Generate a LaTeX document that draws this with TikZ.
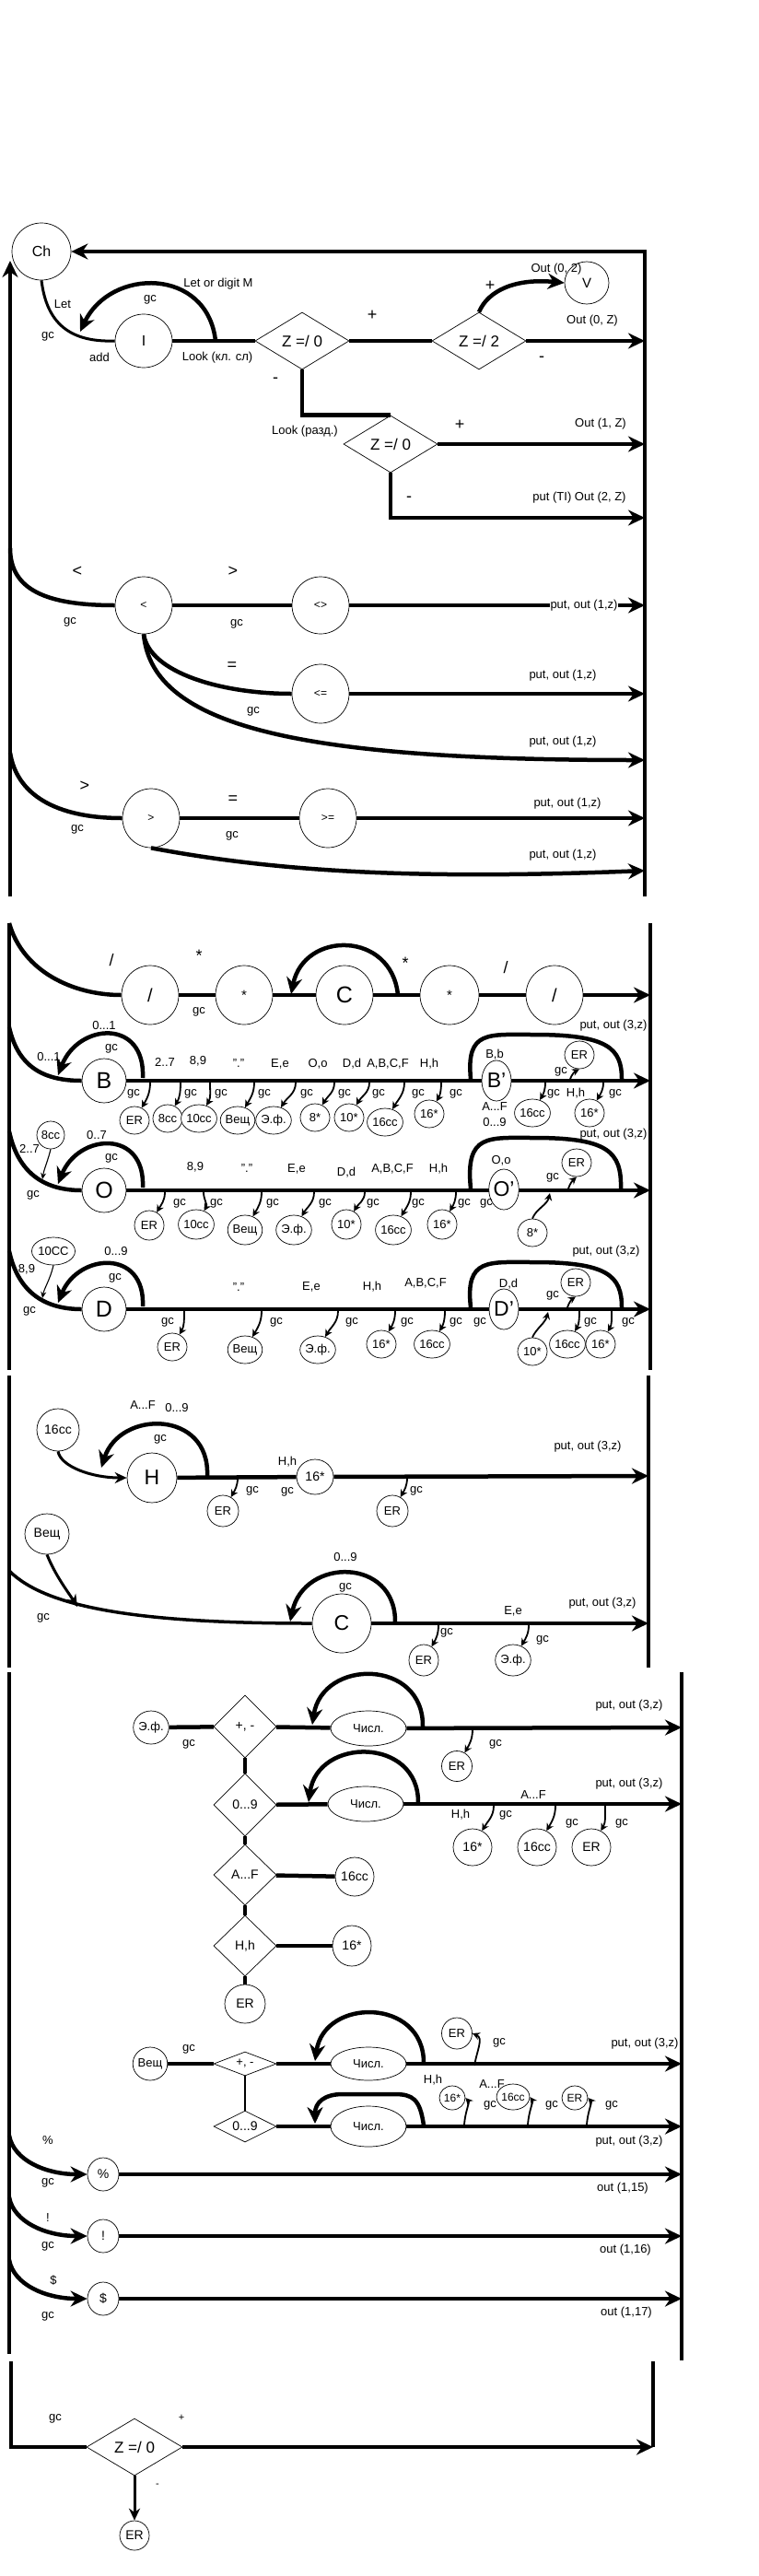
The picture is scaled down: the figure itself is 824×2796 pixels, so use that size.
\documentclass[tikz,border=0pt]{standalone}
\usepackage{fontspec}
\setmainfont{Liberation Sans}
\usetikzlibrary{arrows.meta,shapes.geometric}
\tikzset{
  lab/.style={font=\fontsize{13}{15}\selectfont, inner sep=0.5pt},
  sgn/.style={font=\fontsize{18}{20}\selectfont, inner sep=0pt},
  wl/.style={lab, fill=white, inner sep=1pt},
  st/.style={draw, ellipse, line width=0.7pt, inner sep=0pt, fill=white},
  bigst/.style={st, minimum width=62pt, minimum height=62pt, font=\fontsize{16}{18}\selectfont},
  midst/.style={st, minimum width=48pt, minimum height=48pt, font=\fontsize{25}{27}\selectfont},
  sm/.style={st, minimum width=32pt, minimum height=30pt, font=\fontsize{13}{15}\selectfont},
  primst/.style={st, minimum width=32pt, minimum height=44pt, font=\fontsize{23}{25}\selectfont},
  dia/.style={draw, diamond, line width=0.7pt, inner sep=0pt, fill=white, font=\fontsize{17}{19}\selectfont},
  main/.style={line width=4.5pt},
  arr/.style={line width=4.5pt, -{Stealth[length=18pt,width=17pt]}},
  marr/.style={line width=3pt, -{Stealth[length=13pt,width=12pt]}},
  sarr/.style={line width=1.8pt, -{Stealth[length=8pt,width=8pt]}},
  tarr/.style={line width=1.1pt, -{Stealth[length=7pt,width=6pt]}},
}
\begin{document}
\begin{tikzpicture}[x=1pt,y=-1pt]
\useasboundingbox (0,0) rectangle (824,2796);

% ================= Section 1 =================
\coordinate (r1t) at (700,273);
\coordinate (r1b) at (700,973);
\coordinate (l1t) at (11,283);
\coordinate (l1b) at (11,973);
\node[bigst, minimum width=64pt] (Ch) at (45,273) {Ch};
\node[bigst, minimum height=58pt] (I) at (156,370) {I};
\node[dia, minimum width=102pt, minimum height=62pt] (d1) at (328,370) {Z =/ 0};
\node[dia, minimum width=102pt, minimum height=62pt] (d2) at (520,370) {Z =/ 2};
\node[dia, minimum width=102pt, minimum height=62pt] (d3) at (424,482) {Z =/ 0};
\node[st, minimum width=48pt, minimum height=46pt, font=\fontsize{15}{17}\selectfont] (V) at (637,307) {V};
\draw[arr] (r1b) -- (r1t) -- (Ch.east);
\draw[arr] (l1b) -- (l1t);
\draw[line width=3pt] (Ch.south) .. controls (50,345) and (70,372) .. (I.west);
\draw[main] (I.east) -- (d1.west);
\coordinate (li1) at (234,370);
\coordinate (li1e) at (87,360);
\draw[arr] (li1) .. controls (225,290) and (120,290) .. (li1e);
\draw[main] (d1.east) -- (d2.west);
\coordinate (e1) at (700,370);
\draw[arr] (d2.east) -- (e1);
\draw[arr] (d2.north) .. controls (530,315) and (560,302) .. (V.west);
\draw[main] (d1.south) |- (d3.north);
\coordinate (e2) at (700,482);
\draw[arr] (d3.east) -- (e2);
\coordinate (e3) at (700,562);
\draw[arr] (d3.south) |- (e3);

\node[bigst, font=\fontsize{12}{14}\selectfont] (lt) at (156,657) {<};
\node[bigst, font=\fontsize{12}{14}\selectfont] (ne) at (348,657) {<>};
\node[bigst, minimum height=64pt, font=\fontsize{12}{14}\selectfont] (le) at (348,753) {<=};
\node[bigst, minimum height=64pt, font=\fontsize{12}{14}\selectfont] (gt) at (164,888) {>};
\node[bigst, minimum height=64pt, font=\fontsize{12}{14}\selectfont] (ge) at (356,888) {>=};
\coordinate (c1) at (11,595);
\draw[main] (c1) .. controls (11,640) and (50,657) .. (lt.west);
\draw[main] (lt) -- (ne);
\coordinate (e4) at (700,657);
\draw[arr] (ne) -- (e4);
\draw[main] (lt.south) .. controls (162,730) and (240,753) .. (le.west);
\coordinate (e5) at (700,753);
\draw[arr] (le) -- (e5);
\coordinate (e6) at (700,825);
\draw[arr] (lt.south) .. controls (165,790) and (330,825) .. (e6);
\coordinate (c2) at (11,817);
\draw[main] (c2) .. controls (18,862) and (60,888) .. (gt.west);
\draw[main] (gt) -- (ge);
\coordinate (e7) at (700,888);
\draw[arr] (ge) -- (e7);
\coordinate (e8) at (700,945);
\draw[arr] (gt.south) .. controls (300,946) and (450,955) .. (e8);

\node[lab] (t1) at (237,308) {Let or digit M};
\node[lab] (t2) at (163,325) {gc};
\node[lab] (t3) at (68,330) {Let};
\node[lab] (t4) at (52,365) {gc};
\node[lab] (t5) at (108,388) {add};
\node[lab] (t6) at (236,388) {Look (кл. сл)};
\node[sgn] (t7) at (404,342) {+};
\node[lab] (t8) at (643,348) {Out (0, Z)};
\node[sgn] (t9) at (588,390) {-};
\node[sgn] (t10) at (532,310) {+};
\node[lab] (t11) at (604,292) {Out (0, 2)};
\node[sgn] (t12) at (299,413) {-};
\node[lab] (t13) at (331,468) {Look (разд.)};
\node[sgn] (t14) at (499,461) {+};
\node[lab] (t15) at (652,460) {Out (1, Z)};
\node[sgn] (t16) at (444,542) {-};
\node[lab] (t17) at (629,540) {put (TI) Out (2, Z)};
\node[sgn] (t18) at (84,620) {<};
\node[lab] (t19) at (76,675) {gc};
\node[sgn] (t20) at (253,620) {>};
\node[lab] (t21) at (257,677) {gc};
\node[wl] (t22) at (634,657) {put, out (1,z)};
\node[sgn] (t23) at (252,723) {=};
\node[lab] (t24) at (275,772) {gc};
\node[lab] (t25) at (611,733) {put, out (1,z)};
\node[lab] (t26) at (611,805) {put, out (1,z)};
\node[sgn] (t27) at (92,853) {>};
\node[lab] (t28) at (84,900) {gc};
\node[sgn] (t29) at (253,868) {=};
\node[lab] (t30) at (252,907) {gc};
\node[lab] (t31) at (616,872) {put, out (1,z)};
\node[lab] (t32) at (611,928) {put, out (1,z)};

% ================= Section 2 =================
\coordinate (l2t) at (10,1002); \coordinate (l2b) at (10,1487);
\coordinate (r2t) at (706,1002); \coordinate (r2b) at (706,1487);
\draw[main] (l2t) -- (l2b);
\draw[main] (r2t) -- (r2b);
\node[bigst, minimum height=64pt, font=\fontsize{20}{22}\selectfont] (s1) at (163,1080) {/};
\node[bigst, minimum height=64pt, font=\fontsize{15}{17}\selectfont] (a1) at (265,1080) {*};
\node[bigst, minimum height=64pt, font=\fontsize{25}{27}\selectfont] (cc) at (374,1080) {C};
\node[bigst, minimum height=64pt, minimum width=64pt, font=\fontsize{15}{17}\selectfont] (a2) at (488,1080) {*};
\node[bigst, minimum height=64pt, font=\fontsize{20}{22}\selectfont] (s2) at (602,1080) {/};
\draw[main] (l2t) .. controls (25,1055) and (80,1080) .. (s1.west);
\draw[main] (s1) -- (a1);
\draw[main] (a1) -- (cc);
\draw[main] (cc) -- (a2);
\draw[main] (a2) -- (s2);
\coordinate (e9) at (706,1080);
\draw[arr] (s2) -- (e9);
\coordinate (lp1) at (432,1080); \coordinate (lp1e) at (316,1079);
\draw[arr] (lp1) .. controls (425,1010) and (330,1010) .. (lp1e);
\node[font=\fontsize{18}{20}\selectfont] (t33) at (121,1042) {/};
\node[sgn] (t34) at (216,1037) {*};
\node[lab] (t35) at (216,1098) {gc};
\node[sgn] (t36) at (440,1045) {*};
\node[font=\fontsize{18}{20}\selectfont] (t37) at (549,1050) {/};

% ---- B row
\node[midst] (B) at (113,1173) {B};
\coordinate (bl) at (10,1115);
\draw[main] (bl) .. controls (20,1160) and (50,1173) .. (B.west);
\coordinate (e10) at (706,1173);
\draw[arr] (B.east) -- (e10);
\coordinate (lb1) at (155,1170); \coordinate (lb1e) at (63,1167);
\draw[arr] (lb1) .. controls (158,1105) and (85,1110) .. (lb1e);
\coordinate (bb1) at (511,1171); \coordinate (bb2) at (675,1171);
\draw[main] (bb1) .. controls (506,1118) and (530,1123) .. (580,1123) .. controls (660,1123) and (675,1138) .. (bb2);
\node[primst] (Bp) at (539,1173) {B'};
\foreach \nm/\t/\x/\y/\s in {bER/ER/146/1216/163, b8cc/8cc/182/1214/196, b10cc/10cc/216/1214/228, bVe/Вещ/258/1216/276, bEf/Э.ф./297/1216/321, b8s/8*/342/1213/363, b10s/10*/379/1213/401, b16cc/16cc/418/1218/439, b16s/16*/466/1209/479}{
  \node[sm] (\nm) at (\x,\y) {\t};
  \draw[sarr] (\s,1175) to[out=-90,in=60] (\nm.60);
}
\foreach \x [count=\k] in {145,207,240,287,333,374,411,454,495}{
  \node[lab] (bgc\k) at (\x,1187) {gc};
}
\node[sm] (bpER) at (629,1145) {ER};
\coordinate (bpg) at (619,1171);
\draw[sarr] (bpg) .. controls (621,1166) and (624,1163) .. (bpER.south);
\node[sm] (bp16cc) at (578,1208) {16cc};
\node[sm] (bp16s) at (640,1208) {16*};
\coordinate (bps1) at (592,1175); \coordinate (bps2) at (655,1175);
\draw[sarr] (bps1) to[out=-90,in=60] (bp16cc.60);
\draw[sarr] (bps2) to[out=-90,in=60] (bp16s.60);
\node[lab] (t40) at (113,1113) {0...1};
\node[lab] (t41) at (121,1138) {gc};
\node[lab] (t42) at (53,1147) {0...1};
\node[lab] (t43) at (179,1153) {2..7};
\node[lab] (t44) at (215,1152) {8,9};
\node[lab] (t45) at (259,1154) {"."};
\node[lab] (t46) at (304,1155) {E,e};
\node[lab] (t47) at (345,1155) {O,o};
\node[lab] (t48) at (382,1155) {D,d};
\node[lab] (t49) at (421,1155) {A,B,C,F};
\node[lab] (t50) at (466,1155) {H,h};
\node[lab] (t51) at (537,1145) {B,b};
\node[lab] (t52) at (537,1201) {A...F};
\node[lab] (t53) at (537,1218) {0...9};
\node[lab] (t54) at (609,1163) {gc};
\node[lab] (t55) at (666,1113) {put, out (3,z)};
\node[lab] (t56) at (601,1187) {gc};
\node[lab] (t57) at (625,1187) {H,h};
\node[lab] (t58) at (668,1187) {gc};

% ---- O row
\node[midst] (O) at (113,1292) {O};
\node[sm, minimum width=30pt] (o8cc) at (55,1232) {8cc};
\coordinate (ol) at (10,1228);
\draw[main] (ol) .. controls (20,1275) and (50,1292) .. (O.west);
\coordinate (o8t) at (46,1280);
\draw[tarr] (o8cc.south) .. controls (52,1260) and (48,1268) .. (o8t);
\coordinate (e11) at (706,1292);
\draw[arr] (O.east) -- (e11);
\coordinate (lo1) at (155,1289); \coordinate (lo1e) at (63,1285);
\draw[arr] (lo1) .. controls (158,1225) and (85,1230) .. (lo1e);
\coordinate (ob1) at (511,1290); \coordinate (ob2) at (674,1290);
\draw[main] (ob1) .. controls (505,1230) and (530,1235) .. (580,1235) .. controls (660,1235) and (675,1250) .. (ob2);
\node[primst] (Op) at (547,1291) {O'};
\foreach \nm/\t/\x/\y/\s in {oER/ER/162/1330/179, o10cc/10cc/213/1329/221, oVe/Вещ/266/1335/284, oEf/Э.ф./319/1335/341, o10s/10*/376/1329/396, o16cc/16cc/427/1335/446, o16s/16*/480/1329/495}{
  \node[sm, minimum height=32pt] (\nm) at (\x,\y) {\t};
  \draw[sarr] (\s,1294) to[out=-90,in=60] (\nm.60);
}
\foreach \x [count=\k] in {195,235,296,353,405,454,504,528}{
  \node[lab] (ogc\k) at (\x,1306) {gc};
}
\node[sm] (opER) at (626,1262) {ER};
\coordinate (opg) at (617,1290);
\draw[sarr] (opg) .. controls (619,1284) and (622,1281) .. (opER.south);
\node[sm] (op8s) at (578,1338) {8*};
\coordinate (op8t) at (597,1295);
\draw[sarr] (op8s.north) .. controls (582,1312) and (594,1308) .. (op8t);
\node[lab] (t60) at (105,1232) {0..7};
\node[lab] (t61) at (32,1247) {2..7};
\node[lab] (t62) at (121,1257) {gc};
\node[lab] (t63) at (36,1297) {gc};
\node[lab] (t64) at (212,1267) {8,9};
\node[lab] (t65) at (268,1268) {"."};
\node[lab] (t66) at (322,1269) {E,e};
\node[lab] (t67) at (376,1273) {D,d};
\node[lab] (t68) at (426,1269) {A,B,C,F};
\node[lab] (t69) at (476,1269) {H,h};
\node[lab] (t70) at (544,1260) {O,o};
\node[lab] (t71) at (600,1278) {gc};
\node[lab] (t72) at (666,1231) {put, out (3,z)};

% ---- D row
\node[midst] (D) at (113,1421) {D};
\node[sm, minimum width=35pt] (d10cc) at (58,1358) {10CC};
\coordinate (dl) at (10,1358);
\draw[main] (dl) .. controls (20,1404) and (50,1421) .. (D.west);
\coordinate (d10t) at (46,1409);
\draw[tarr] (d10cc.south) .. controls (54,1390) and (48,1398) .. (d10t);
\coordinate (e12) at (706,1421);
\draw[arr] (D.east) -- (e12);
\coordinate (ld1) at (155,1418); \coordinate (ld1e) at (63,1414);
\draw[arr] (ld1) .. controls (158,1355) and (85,1360) .. (ld1e);
\coordinate (db1) at (511,1419); \coordinate (db2) at (675,1419);
\draw[main] (db1) .. controls (505,1365) and (530,1370) .. (580,1370) .. controls (660,1370) and (675,1385) .. (db2);
\node[primst] (Dp) at (547,1421) {D'};
\foreach \nm/\t/\x/\y/\s in {dER/ER/187/1462/200, dVe/Вещ/266/1465/284, dEf/Э.ф./345/1465/367, d16s/16*/414/1459/429, d16cc/16cc/469/1459/483, dp16cc/16cc/616/1459/629, dp16s/16*/652/1459/664}{
  \node[sm] (\nm) at (\x,\y) {\t};
  \draw[sarr] (\s,1423) to[out=-90,in=60] (\nm.60);
}
\foreach \x [count=\k] in {182,300,382,442,495,521,641,682}{
  \node[lab] (dgc\k) at (\x,1435) {gc};
}
\node[sm] (dpER) at (625,1392) {ER};
\coordinate (dpg) at (616,1419);
\draw[sarr] (dpg) .. controls (618,1413) and (621,1410) .. (dpER.south);
\node[sm] (dp10s) at (578,1467) {10*};
\coordinate (dp10t) at (595,1424);
\draw[sarr] (dp10s.north) .. controls (582,1442) and (592,1436) .. (dp10t);
\node[lab] (t80) at (126,1358) {0...9};
\node[lab] (t81) at (29,1378) {8,9};
\node[lab] (t82) at (125,1387) {gc};
\node[lab] (t83) at (32,1423) {gc};
\node[lab] (t84) at (259,1397) {"."};
\node[lab] (t85) at (338,1397) {E,e};
\node[lab] (t86) at (404,1397) {H,h};
\node[lab] (t87) at (462,1393) {A,B,C,F};
\node[lab] (t88) at (552,1394) {D,d};
\node[lab] (t89) at (600,1406) {gc};
\node[lab] (t90) at (658,1358) {put, out (3,z)};

% ================= Section 3 =================
\coordinate (l3t) at (10,1493); \coordinate (l3b) at (10,1810);
\coordinate (r3t) at (704,1493); \coordinate (r3b) at (704,1810);
\draw[main] (l3t) -- (l3b);
\draw[main] (r3t) -- (r3b);
\node[st, minimum width=46pt, minimum height=46pt, font=\fontsize{14}{16}\selectfont] (h16cc) at (63,1552) {16cc};
\node[st, minimum width=54pt, minimum height=54pt, font=\fontsize{23}{25}\selectfont] (H) at (165,1604) {H};
\draw[marr] (h16cc.south) .. controls (66,1592) and (100,1604) .. (H.west);
\coordinate (lh1) at (225,1602); \coordinate (lh1e) at (110,1593);
\draw[arr] (lh1) .. controls (228,1530) and (130,1530) .. (lh1e);
\node[st, minimum width=40pt, minimum height=38pt, font=\fontsize{14}{16}\selectfont] (h16s) at (342,1603) {16*};
\draw[main] (H) -- (h16s);
\coordinate (e20) at (704,1602);
\draw[arr] (h16s) -- (e20);
\node[sm, minimum width=34pt, minimum height=34pt] (hER1) at (242,1640) {ER};
\node[sm, minimum width=34pt, minimum height=34pt] (hER2) at (426,1640) {ER};
\coordinate (hs1) at (258,1604); \coordinate (hs2) at (442,1604);
\draw[sarr] (hs1) to[out=-90,in=60] (hER1.60);
\draw[sarr] (hs2) to[out=-90,in=60] (hER2.60);
\node[lab] (t100) at (155,1525) {A...F};
\node[lab] (t101) at (192,1528) {0...9};
\node[lab] (t102) at (174,1562) {gc};
\node[lab] (t103) at (312,1587) {H,h};
\node[lab] (t104) at (312,1619) {gc};
\node[lab] (t105) at (274,1618) {gc};
\node[lab] (t106) at (452,1618) {gc};
\node[lab] (t107) at (638,1570) {put, out (3,z)};

\node[st, minimum width=48pt, minimum height=44pt, font=\fontsize{14}{16}\selectfont] (cVe) at (51,1665) {Вещ};
\node[bigst, minimum width=64pt, minimum height=64pt, font=\fontsize{23}{25}\selectfont] (C2) at (371,1762) {C};
\coordinate (cl) at (10,1705);
\draw[line width=3.5pt] (cl) .. controls (50,1745) and (150,1762) .. (C2.west);
\coordinate (cvt) at (84,1744);
\draw[marr] (cVe.south) .. controls (60,1710) and (74,1728) .. (cvt);
\coordinate (lc2) at (429,1761); \coordinate (lc2e) at (315,1760);
\draw[arr] (lc2) .. controls (430,1690) and (330,1690) .. (lc2e);
\coordinate (e21) at (704,1762);
\draw[arr] (C2) -- (e21);
\node[sm, minimum height=34pt] (cER) at (460,1802) {ER};
\node[sm, minimum height=34pt] (cEf) at (557,1802) {Э.ф.};
\coordinate (cs1) at (476,1764); \coordinate (cs2) at (574,1764);
\draw[sarr] (cs1) to[out=-90,in=60] (cER.60);
\draw[sarr] (cs2) to[out=-90,in=60] (cEf.60);
\node[lab] (t110) at (47,1756) {gc};
\node[lab] (t111) at (375,1690) {0...9};
\node[lab] (t112) at (375,1723) {gc};
\node[lab] (t113) at (557,1749) {E,e};
\node[lab] (t114) at (654,1740) {put, out (3,z)};
\node[lab] (t115) at (485,1772) {gc};
\node[lab] (t116) at (589,1780) {gc};

% ================= Section 4 =================
\coordinate (l4t) at (10,1815); \coordinate (l4b) at (10,2555);
\coordinate (r4t) at (740,1815); \coordinate (r4b) at (740,2562);
\draw[main] (l4t) -- (l4b);
\draw[main] (r4t) -- (r4b);
\node[st, minimum width=34pt, minimum height=36pt, font=\fontsize{13}{15}\selectfont] (fEf) at (164,1875) {Э.ф.};
\node[dia, minimum width=68pt, minimum height=68pt, font=\fontsize{14}{16}\selectfont] (pm1) at (266,1874) {+, -};
\node[st, minimum width=82pt, minimum height=38pt, font=\fontsize{13}{15}\selectfont] (ch1) at (400,1876) {Числ.};
\draw[main] (fEf) -- (pm1);
\draw[main] (pm1) -- (ch1);
\coordinate (e30) at (740,1875);
\draw[arr] (ch1) -- (e30);
\coordinate (lq1) at (459,1874); \coordinate (lq1e) at (339,1872);
\draw[arr] (lq1) .. controls (460,1800) and (350,1800) .. (lq1e);
\node[sm, minimum width=33pt, minimum height=33pt] (fER1) at (496,1917) {ER};
\coordinate (fs1) at (513,1877);
\draw[sarr] (fs1) to[out=-90,in=60] (fER1.60);

\node[dia, minimum width=68pt, minimum height=68pt, font=\fontsize{14}{16}\selectfont] (d09) at (266,1959) {0...9};
\node[st, minimum width=82pt, minimum height=38pt, font=\fontsize{13}{15}\selectfont] (ch2) at (397,1958) {Числ.};
\draw[main] (pm1.south) -- (d09.north);
\draw[main] (d09) -- (ch2);
\coordinate (e31) at (740,1958);
\draw[arr] (ch2) -- (e31);
\coordinate (lq2) at (454,1957); \coordinate (lq2e) at (335,1956);
\draw[arr] (lq2) .. controls (455,1885) and (345,1885) .. (lq2e);
\node[st, minimum width=42pt, minimum height=40pt, font=\fontsize{14}{16}\selectfont] (f16s) at (513,2005) {16*};
\node[st, minimum width=42pt, minimum height=40pt, font=\fontsize{14}{16}\selectfont] (f16cc) at (583,2005) {16cc};
\node[st, minimum width=42pt, minimum height=40pt, font=\fontsize{14}{16}\selectfont] (fER2) at (642,2005) {ER};
\coordinate (fs2) at (536,1960); \coordinate (fs3) at (603,1960); \coordinate (fs4) at (657,1960);
\draw[sarr] (fs2) to[out=-90,in=60] (f16s.60);
\draw[sarr] (fs3) to[out=-90,in=60] (f16cc.60);
\draw[sarr] (fs4) to[out=-90,in=60] (fER2.60);

\node[dia, minimum width=68pt, minimum height=66pt, font=\fontsize{14}{16}\selectfont] (daf) at (266,2035) {A...F};
\node[st, minimum width=42pt, minimum height=42pt, font=\fontsize{14}{16}\selectfont] (f16cc2) at (385,2037) {16cc};
\draw[main] (d09.south) -- (daf.north);
\draw[main] (daf) -- (f16cc2);
\node[dia, minimum width=68pt, minimum height=66pt, font=\fontsize{14}{16}\selectfont] (dhh) at (266,2112) {H,h};
\node[st, minimum width=42pt, minimum height=44pt, font=\fontsize{14}{16}\selectfont] (f16s2) at (382,2112) {16*};
\draw[main] (daf.south) -- (dhh.north);
\draw[main] (dhh) -- (f16s2);
\node[st, minimum width=44pt, minimum height=42pt, font=\fontsize{14}{16}\selectfont] (fER3) at (266,2175) {ER};
\draw[main] (dhh.south) -- (fER3.north);

\node[st, minimum width=34pt, minimum height=36pt, font=\fontsize{13}{15}\selectfont] (gVe) at (163,2240) {Вещ};
\node[dia, minimum width=68pt, minimum height=26pt, aspect=2.6, font=\fontsize{13}{15}\selectfont] (pm2) at (266,2240) {+, -};
\node[st, minimum width=82pt, minimum height=36pt, font=\fontsize{13}{15}\selectfont] (ch3) at (400,2240) {Числ.};
\draw[main] (gVe) -- (pm2);
\draw[main] (pm2) -- (ch3);
\coordinate (e32) at (740,2240);
\draw[arr] (ch3) -- (e32);
\coordinate (lq3) at (460,2239); \coordinate (lq3e) at (342,2237);
\draw[arr] (lq3) .. controls (460,2168) and (352,2168) .. (lq3e);
\node[sm, minimum width=33pt, minimum height=34pt] (gER1) at (496,2207) {ER};
\coordinate (gs1) at (515,2242);
\draw[sarr] (gs1) .. controls (518,2225) and (525,2212) .. (gER1.east);

\node[dia, minimum width=68pt, minimum height=34pt, aspect=2, font=\fontsize{14}{16}\selectfont] (d092) at (266,2308) {0...9};
\node[st, minimum width=82pt, minimum height=44pt, font=\fontsize{13}{15}\selectfont] (ch4) at (400,2308) {Числ.};
\draw[line width=2.5pt] (pm2.south) -- (d092.north);
\draw[main] (d092) -- (ch4);
\coordinate (e33) at (740,2308);
\draw[arr] (ch4) -- (e33);
\coordinate (lq4) at (460,2307); \coordinate (lq4e) at (342,2305);
\draw[arr] (lq4) .. controls (456,2278) and (448,2273) .. (428,2273) -- (372,2273) .. controls (352,2273) and (342,2282) .. (lq4e);
\node[st, minimum width=28pt, minimum height=26pt, font=\fontsize{12}{14}\selectfont] (g16s) at (491,2277) {16*};
\node[st, minimum width=30pt, minimum height=28pt, font=\fontsize{12}{14}\selectfont] (g16cc) at (557,2276) {16cc};
\node[st, minimum width=28pt, minimum height=26pt, font=\fontsize{12}{14}\selectfont] (gER2) at (624,2277) {ER};
\coordinate (gs2) at (504,2306); \coordinate (gs3) at (573,2306); \coordinate (gs4) at (637,2306);
\draw[sarr] (gs2) .. controls (505,2292) and (510,2282) .. (g16s.east);
\draw[sarr] (gs3) .. controls (574,2292) and (579,2281) .. (g16cc.east);
\draw[sarr] (gs4) .. controls (638,2292) and (643,2282) .. (gER2.east);

\node[st, minimum width=34pt, minimum height=36pt, font=\fontsize{14}{16}\selectfont] (pc) at (112,2360) {\%};
\coordinate (pcs) at (10,2318);
\draw[arr] (pcs) .. controls (15,2345) and (50,2360) .. (pc.west);
\coordinate (e34) at (740,2360);
\draw[arr] (pc) -- (e34);
\node[st, minimum width=34pt, minimum height=36pt, font=\fontsize{14}{16}\selectfont] (ex) at (112,2427) {!};
\coordinate (exs) at (10,2385);
\draw[arr] (exs) .. controls (15,2412) and (50,2427) .. (ex.west);
\coordinate (e35) at (740,2427);
\draw[arr] (ex) -- (e35);
\node[st, minimum width=34pt, minimum height=36pt, font=\fontsize{14}{16}\selectfont] (dol) at (112,2495) {\$};
\coordinate (dls) at (10,2453);
\draw[arr] (dls) .. controls (15,2480) and (50,2495) .. (dol.west);
\coordinate (e36) at (740,2495);
\draw[arr] (dol) -- (e36);

\node[lab] (t120) at (205,1893) {gc};
\node[lab] (t121) at (683,1851) {put, out (3,z)};
\node[lab] (t122) at (538,1893) {gc};
\node[lab] (t123) at (683,1936) {put, out (3,z)};
\node[lab] (t124) at (579,1948) {A...F};
\node[lab] (t125) at (500,1970) {H,h};
\node[lab] (t126) at (549,1970) {gc};
\node[lab] (t127) at (621,1979) {gc};
\node[lab] (t128) at (675,1979) {gc};
\node[lab] (t129) at (205,2224) {gc};
\node[lab] (t130) at (700,2218) {put, out (3,z)};
\node[lab] (t131) at (542,2217) {gc};
\node[lab] (t132) at (470,2258) {H,h};
\node[lab] (t133) at (532,2285) {gc};
\node[lab] (t134) at (534,2262) {A...F};
\node[lab] (t135) at (599,2285) {gc};
\node[lab] (t136) at (664,2285) {gc};
\node[lab] (t137) at (683,2324) {put, out (3,z)};
\node[lab] (t138) at (52,2323) {\%};
\node[lab] (t139) at (52,2369) {gc};
\node[lab] (t140) at (676,2375) {out (1,15)};
\node[lab] (t141) at (52,2407) {!};
\node[lab] (t142) at (52,2438) {gc};
\node[lab] (t143) at (679,2442) {out (1,16)};
\node[lab] (t144) at (58,2475) {\$};
\node[lab] (t145) at (52,2514) {gc};
\node[lab] (t146) at (680,2510) {out (1,17)};

% ================= Section 5 =================
\coordinate (l5t) at (12,2563);
\coordinate (r5t) at (709,2563);
\coordinate (r5b) at (709,2656);
\node[dia, minimum width=104pt, minimum height=62pt] (zz) at (146,2656) {Z =/ 0};
\draw[main] (l5t) |- (zz.west);
\draw[main] (r5t) -- (r5b);
\draw[arr] (zz.east) -- (r5b);
\node[sm, minimum height=32pt, font=\fontsize{14}{16}\selectfont] (er5) at (146,2752) {ER};
\draw[marr] (zz.south) -- (er5.north);
\node[lab] (t150) at (60,2625) {gc};
\node[lab, font=\fontsize{11}{13}\selectfont] (t151) at (197,2624) {+};
\node[lab, font=\fontsize{11}{13}\selectfont] (t152) at (171,2698) {-};

\end{tikzpicture}
\end{document}
